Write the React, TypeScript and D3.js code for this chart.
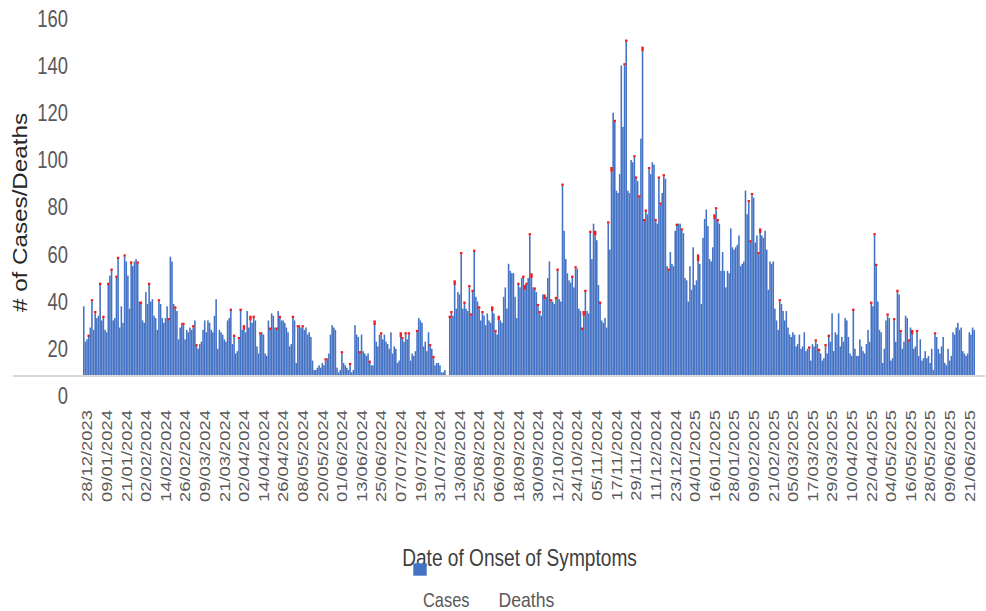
import React from 'react';
import * as d3 from 'd3';

// daily cases / deaths by date of onset (one date missing in early August 2024)
const START_DATE = new Date(2023, 11, 26);
const END_DATE = new Date(2025, 5, 25);
const MISSING_DATE = '08/08/2024';

const cases = [
    38, 23, 24, 25, 29, 40, 28, 35, 33, 34,
    47, 32, 33, 28, 27, 47, 51, 53, 32, 33,
    50, 58, 29, 38, 31, 59, 57, 51, 37, 56,
    55, 57, 58, 56, 40, 39, 32, 31, 44, 39,
    47, 40, 41, 34, 33, 28, 40, 39, 33, 31,
    33, 38, 32, 59, 57, 39, 37, 36, 24, 29,
    31, 30, 24, 28, 27, 29, 28, 29, 32, 21,
    20, 22, 23, 28, 32, 27, 32, 31, 28, 27,
    34, 41, 20, 28, 27, 26, 24, 23, 32, 33,
    36, 22, 25, 18, 19, 24, 36, 28, 28, 27,
    36, 29, 32, 31, 33, 32, 21, 18, 26, 27,
    26, 18, 17, 32, 28, 35, 34, 29, 28, 36,
    33, 32, 32, 31, 29, 27, 21, 22, 33, 32,
    14, 29, 30, 29, 29, 28, 29, 26, 27, 25,
    15, 11, 11, 12, 13, 12, 14, 13, 15, 16,
    18, 26, 30, 29, 28, 12, 10, 11, 18, 14,
    13, 12, 11, 13, 10, 11, 30, 26, 25, 18,
    26, 19, 18, 17, 18, 14, 13, 13, 30, 23,
    21, 26, 26, 24, 26, 23, 22, 20, 27, 18,
    21, 20, 14, 15, 25, 24, 23, 26, 24, 26,
    15, 18, 17, 19, 27, 33, 32, 31, 21, 23,
    19, 27, 21, 20, 16, 13, 14, 14, 13, 10,
    10, 11, 0, 0, 33, 35, 34, 47, 37, 44,
    43, 60, 37, 39, 37, 36, 46, 34, 44, 61,
    42, 40, 37, 32, 35, 34, 30, 35, 32, 31,
    36, 35, 27, 26, 32, 32, 31, 42, 46, 37,
    56, 53, 52, 52, 42, 33, 47, 46, 50, 50,
    45, 47, 50, 68, 50, 46, 45, 44, 38, 35,
    34, 43, 41, 42, 50, 57, 40, 40, 39,
    41, 53, 41, 40, 89, 70, 58, 52, 49, 48,
    50, 46, 54, 54, 37, 36, 28, 34, 44, 36,
    35, 69, 58, 73, 68, 66, 47, 39, 32, 31,
    33, 29, 73, 62, 95, 120, 116, 87, 86, 94,
    140, 114, 140, 150, 87, 86, 100, 99, 101, 92,
    91, 84, 109, 146, 74, 78, 77, 96, 94, 99,
    98, 74, 73, 92, 81, 86, 93, 92, 55, 53,
    61, 56, 55, 70, 72, 73, 73, 70, 69, 50,
    49, 40, 55, 45, 63, 47, 49, 57, 56, 39,
    67, 75, 79, 72, 58, 57, 63, 75, 79, 74,
    73, 53, 61, 53, 46, 53, 52, 71, 63, 62,
    63, 64, 68, 55, 56, 57, 87, 77, 82, 65,
    85, 84, 65, 68, 60, 69, 68, 67, 70, 62,
    45, 57, 56, 57, 37, 32, 28, 40, 39, 36,
    32, 36, 29, 26, 25, 27, 26, 21, 22, 26,
    20, 21, 27, 19, 20, 20, 15, 22, 21, 23,
    22, 19, 18, 15, 16, 21, 18, 25, 23, 35,
    19, 27, 26, 35, 21, 25, 23, 33, 32, 25,
    18, 17, 36, 20, 17, 17, 24, 21, 19,
    18, 22, 28, 23, 39, 38, 68, 55, 40, 28,
    27, 14, 20, 32, 34, 33, 15, 16, 32, 23,
    44, 43, 27, 20, 23, 34, 33, 23, 29, 26,
    20, 21, 27, 17, 24, 15, 16, 19, 16, 17,
    14, 20, 11, 26, 25, 20, 18, 21, 25, 14,
    13, 20, 15, 17, 27, 26, 29, 31, 28, 29,
    19, 18, 17, 18, 27, 26, 29, 28
];

const deaths = [
    0, 0, 0, 1, 0, 1, 0, 1, 0, 0,
    1, 0, 1, 0, 0, 1, 0, 1, 0, 0,
    1, 1, 0, 0, 0, 1, 0, 0, 0, 1,
    0, 0, 0, 1, 0, 1, 0, 0, 0, 0,
    1, 0, 0, 0, 0, 0, 1, 0, 0, 0,
    0, 0, 1, 0, 0, 0, 1, 0, 0, 0,
    0, 1, 0, 0, 0, 0, 0, 1, 0, 1,
    0, 0, 0, 0, 0, 0, 0, 0, 0, 0,
    0, 0, 0, 0, 0, 0, 0, 0, 0, 0,
    1, 0, 1, 0, 0, 1, 1, 0, 2, 0,
    0, 0, 2, 0, 1, 0, 0, 0, 1, 0,
    0, 0, 0, 0, 1, 0, 0, 0, 1, 0,
    1, 0, 0, 0, 0, 0, 0, 0, 1, 0,
    0, 1, 0, 0, 1, 0, 0, 0, 0, 0,
    0, 0, 0, 0, 0, 0, 0, 0, 1, 0,
    0, 0, 0, 0, 0, 0, 0, 0, 1, 0,
    0, 0, 0, 1, 0, 0, 0, 0, 0, 1,
    0, 0, 0, 0, 0, 1, 0, 0, 2, 0,
    0, 0, 1, 0, 0, 0, 0, 0, 0, 0,
    0, 0, 0, 0, 2, 1, 0, 1, 0, 1,
    0, 0, 0, 0, 1, 0, 0, 0, 0, 0,
    0, 0, 1, 0, 1, 0, 0, 0, 0, 0,
    0, 0, 0, 0, 1, 1, 0, 2, 0, 0,
    0, 1, 0, 1, 0, 0, 1, 1, 1, 1,
    0, 0, 1, 0, 1, 0, 0, 0, 0, 0,
    2, 0, 1, 0, 2, 0, 0, 0, 0, 0,
    0, 0, 0, 0, 0, 0, 1, 0, 0, 1,
    2, 1, 0, 1, 2, 0, 1, 0, 1, 1,
    0, 0, 2, 0, 0, 0, 1, 0, 0,
    1, 1, 0, 0, 1, 0, 0, 0, 0, 0,
    1, 0, 1, 0, 0, 0, 1, 2, 1, 0,
    0, 1, 0, 0, 2, 0, 0, 1, 0, 0,
    0, 0, 1, 0, 2, 0, 1, 0, 0, 0,
    0, 0, 1, 1, 0, 0, 0, 0, 1, 1,
    0, 1, 0, 2, 1, 1, 0, 1, 0, 0,
    0, 1, 0, 1, 1, 0, 1, 0, 0, 1,
    0, 0, 0, 0, 1, 0, 0, 1, 0, 0,
    0, 0, 0, 0, 0, 0, 0, 3, 0, 0,
    0, 0, 0, 0, 0, 0, 0, 2, 1, 1,
    0, 0, 0, 0, 0, 0, 0, 0, 0, 0,
    0, 0, 0, 0, 0, 0, 0, 0, 1, 1,
    1, 0, 0, 0, 1, 2, 0, 0, 0, 0,
    0, 0, 0, 0, 0, 0, 0, 1, 0, 0,
    0, 0, 0, 0, 0, 0, 0, 0, 0, 0,
    0, 0, 0, 0, 0, 1, 0, 0, 0, 1,
    0, 1, 0, 0, 0, 1, 0, 1, 0, 0,
    0, 0, 0, 0, 0, 0, 0, 0, 0, 0,
    0, 0, 1, 0, 0, 0, 0, 0, 0,
    0, 0, 0, 0, 1, 0, 1, 1, 0, 0,
    0, 0, 0, 0, 1, 0, 0, 0, 1, 0,
    1, 0, 1, 0, 0, 0, 0, 1, 0, 2,
    0, 0, 1, 0, 0, 0, 0, 0, 0, 0,
    0, 0, 0, 1, 0, 0, 0, 0, 0, 0,
    0, 0, 0, 0, 0, 0, 0, 0, 0, 0,
    0, 0, 0, 0, 0, 0, 0, 0
];

const tickLabels = [
    '28/12/2023', '09/01/2024', '21/01/2024', '02/02/2024', '14/02/2024', '26/02/2024',
    '09/03/2024', '21/03/2024', '02/04/2024', '14/04/2024', '26/04/2024', '08/05/2024',
    '20/05/2024', '01/06/2024', '13/06/2024', '25/06/2024', '07/07/2024', '19/07/2024',
    '31/07/2024', '13/08/2024', '25/08/2024', '06/09/2024', '18/09/2024', '30/09/2024',
    '12/10/2024', '24/10/2024', '05/11/2024', '17/11/2024', '29/11/2024', '11/12/2024',
    '23/12/2024', '04/01/2025', '16/01/2025', '28/01/2025', '09/02/2025', '21/02/2025',
    '05/03/2025', '17/03/2025', '29/03/2025', '10/04/2025', '22/04/2025', '04/05/2025',
    '16/05/2025', '28/05/2025', '09/06/2025', '21/06/2025'
];

const yTicks = [0, 20, 40, 60, 80, 100, 120, 140, 160];

const BLUE = '#4472C4';
const RED = '#f01a1a';
const FONT = '"Liberation Sans", Arial, sans-serif';

const fmt = d3.timeFormat('%d/%m/%Y');
const categories = d3.timeDay.range(START_DATE, END_DATE).map(fmt).filter(d => d !== MISSING_DATE);

export default function App() {
    const width = 986;
    const height = 611;
    const floorValue = 8.9; // the bars sit on the axis line, a little above the "0" label

    const x = d3.scaleBand<number>()
        .domain(d3.range(categories.length))
        .range([83, 975])
        .paddingInner(0.04);

    const y = d3.scaleLinear().domain([0, 160]).range([396, 18.3]);
    const base = y(floorValue);
    const bw = x.bandwidth();

    const rows = categories.map((date, i) => ({
        date,
        i,
        cases: cases[i] ?? 0,
        deaths: deaths[i] ?? 0
    }));

    return (
        <svg width={width} height={height} style={{ position: 'absolute', left: 0, top: 0, background: '#fff' }}>
            {/* cases */}
            <g>
                {rows.filter(d => d.cases > floorValue).map(d => (
                    <rect key={'c' + d.i} x={x(d.i)} y={y(d.cases)} width={bw}
                        height={base - y(d.cases)} fill={BLUE} />
                ))}
            </g>
            {/* deaths stacked on top, drawn a touch wider so they read like the original */}
            <g>
                {rows.filter(d => d.deaths > 0).map(d => (
                    <rect key={'d' + d.i} x={(x(d.i) as number) - 0.4} y={y(d.cases + d.deaths)} width={bw + 0.8}
                        height={y(d.cases) - y(d.cases + d.deaths)} fill={RED} />
                ))}
            </g>

            <line x1={13} x2={985} y1={base + 1} y2={base + 1} stroke="#d9d9d9" strokeWidth={2} />

            {/* y tick labels */}
            <g fontFamily={FONT} fontSize={23} fill="#595959">
                {yTicks.map(t => (
                    <text key={t} textAnchor="end" transform={`translate(68, ${y(t) + 8.3}) scale(0.8, 1)`}>{t}</text>
                ))}
            </g>

            {/* x tick labels, rotated */}
            <g fontFamily={FONT} fontSize={18.4} fill="#595959">
                {tickLabels.map(lbl => {
                    const idx = categories.indexOf(lbl);
                    if (idx < 0) return null;
                    const cx = (x(idx) as number) + bw / 2;
                    return (
                        <text key={lbl} textAnchor="end"
                            transform={`translate(${cx + 5.3}, 410) rotate(-90) scale(1, 0.8)`}>{lbl}</text>
                    );
                })}
            </g>

            {/* axis titles */}
            <text fontFamily={FONT} fontSize={24.2} fill="#262626" textAnchor="middle"
                transform="translate(26.7, 212.5) rotate(-90) scale(1, 0.8)"># of Cases/Deaths</text>
            <text fontFamily={FONT} fontSize={24.5} fill="#404040" textAnchor="middle"
                transform="translate(519.5, 566) scale(0.78, 1)">Date of Onset of Symptoms</text>

            {/* legend */}
            <rect x={413.3} y={563.3} width={13.4} height={12.4} fill={BLUE} />
            <g fontFamily={FONT} fontSize={20.5} fill="#595959">
                <text transform="translate(423, 607) scale(0.8, 1)">Cases</text>
                <text transform="translate(498.5, 607) scale(0.86, 1)">Deaths</text>
            </g>
        </svg>
    );
}
